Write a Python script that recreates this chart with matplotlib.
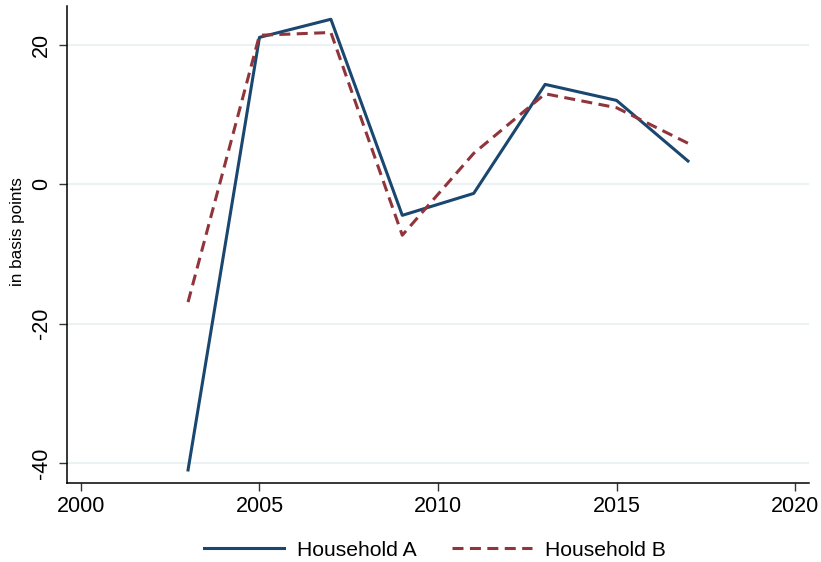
import matplotlib.pyplot as plt

plt.rcParams['font.family'] = ['Liberation Sans', 'DejaVu Sans']
plt.rcParams['axes.unicode_minus'] = False

years = [2003, 2005, 2007, 2009, 2011, 2013, 2015, 2017]
household_a = [-41.0, 21.1, 23.7, -4.45, -1.3, 14.35, 12.05, 3.35]
household_b = [-16.9, 21.4, 21.8, -7.3, 4.45, 13.0, 11.0, 5.9]
xticks = [2000, 2005, 2010, 2015, 2020]
yticks = [-40, -20, 0, 20]

fig = plt.figure(figsize=(8.21, 5.62), dpi=100)
ax = fig.add_axes([0.0816, 0.1406, 0.9038, 0.8487])

for y in yticks:
    ax.axhline(y, color='#eaf2f3', linewidth=1.5, zorder=0)

ax.plot(years, household_a, color='#1a476f', linewidth=2.2, label='Household A')
ax.plot(years, household_b, color='#90353b', linewidth=2.2, dashes=(3.6, 2.1), label='Household B')

ax.set_xlim(1999.61, 2020.39)
ax.set_ylim(-42.87, 25.6)
ax.set_xticks(xticks)
ax.set_yticks(yticks)
ax.tick_params(axis='both', labelsize=15.5, length=6, width=1, color='#333333')
ax.tick_params(axis='y', pad=5)
plt.setp(ax.get_yticklabels(), rotation=90, va='center')
ax.set_ylabel('in basis points', fontsize=12.3)
ax.yaxis.set_label_coords(-0.057, 0.528)

for s in ['top', 'right']:
    ax.spines[s].set_visible(False)
for s in ['left', 'bottom']:
    ax.spines[s].set_linewidth(1.1)

fig.legend(loc='lower center', bbox_to_anchor=(0.530, -0.030), ncol=2, frameon=False,
           fontsize=15.2, handlelength=3.8, columnspacing=1.65, handletextpad=0.62)

fig.savefig('out.png', dpi=100)
